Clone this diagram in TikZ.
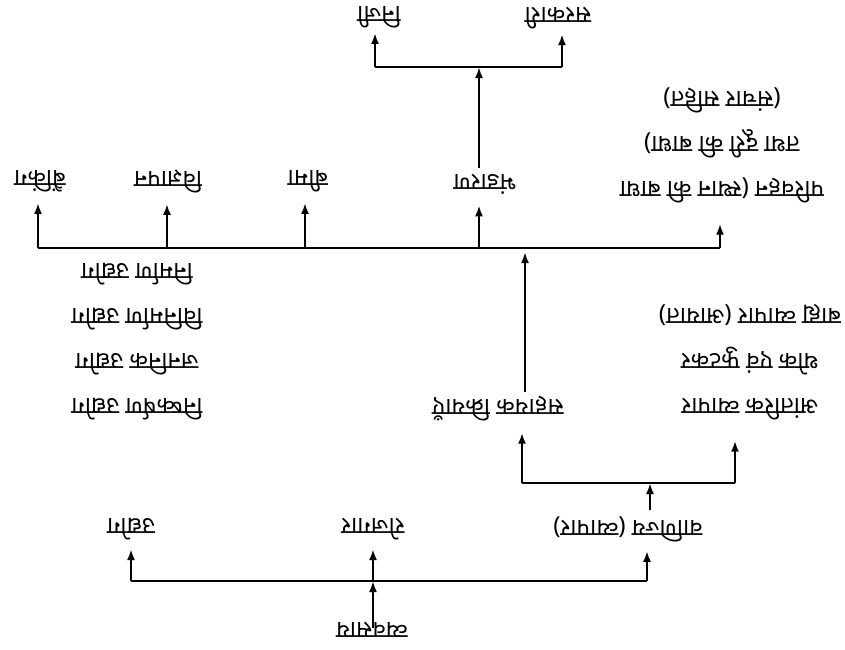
\documentclass[tikz,border=0pt]{standalone}
\usepackage{fontspec}
\newfontfamily\deva[Script=Devanagari]{Noto Sans}
\usetikzlibrary{arrows.meta}
% labels are printed upside down
\newcommand{\turn}[1]{\rotatebox[origin=c]{180}{#1}}
\newcommand{\lines}[1]{\turn{\begin{tabular}{@{}c@{}}#1\end{tabular}}}
\begin{document}
\begin{tikzpicture}[x=1pt,y=-1pt,
  lbl/.style={font=\deva\fontsize{24}{45}\selectfont, inner sep=0pt},
  link/.style={line width=2.2pt},
  arr/.style={line width=2.2pt,-{Latex[length=11pt,width=8pt]}}]
\useasboundingbox[fill=white] (0,0) rectangle (845,649);

% ---- nodes ----
\node[lbl] (root) at (372,630) {\turn{व्यवसाय}};

\node[lbl] (a1) at (131,529) {\turn{उद्योग}};
\node[lbl] (b1) at (373,529) {\turn{रोजगार}};
\node[lbl] (c1) at (628,529) {\turn{वाणिज्य (व्यापार)}};

\node[lbl] (a2) at (498,409) {\turn{सहायक क्रियाएँ}};
\node[lbl] (b2) at (750,362) {\lines{आंतरिक व्यापार\\थोक एवं फुटकर\\बाह्य व्यापार (आयात)}};

\node[lbl] (list) at (137,340) {\lines{निष्कर्षण उद्योग\\जननिक उद्योग\\विनिर्माण उद्योग\\निर्माण उद्योग}};

\node[lbl] (a3) at (40,181) {\turn{बैंकिंग}};
\node[lbl] (b3) at (168,181) {\turn{विज्ञापन}};
\node[lbl] (c3) at (308,181) {\turn{बीमा}};
\node[lbl] (d3) at (485,184) {\turn{भंडारण}};
\node[lbl] (e3) at (722,145) {\lines{परिवहन (स्थान की बाधा\\तथा दूरी की बाधा)\\(संचार सहित)}};

\node[lbl] (a4) at (379,17) {\turn{निजी}};
\node[lbl] (b4) at (558,18) {\turn{सरकारी}};

% ---- junctions ----
\coordinate (j1) at (373,581);
\coordinate (j1a) at (131,581);
\coordinate (j1c) at (647,581);
\coordinate (j2) at (650,483);
\coordinate (j2a) at (522,483);
\coordinate (j2b) at (735,483);
\coordinate (j3) at (525,248);
\coordinate (j3a) at (38,248);
\coordinate (j3b) at (167,248);
\coordinate (j3c) at (305,248);
\coordinate (j3d) at (479,248);
\coordinate (j3e) at (720,248);
\coordinate (j4) at (479,67);
\coordinate (j4a) at (375,67);
\coordinate (j4b) at (562,67);

% ---- connectors (tips stop short of the labels) ----
\draw[arr] ([yshift=-6pt]root.north -| j1) -- (j1);
\draw[link] (j1a) -- (j1c);
\foreach \j/\n in {j1a/a1, j1/b1, j1c/c1}
  \draw[arr] (\j) -- ([yshift=-9pt]\j |- \n.south);

\draw[arr] ([yshift=6pt]j2 |- c1.north) -- (j2);
\draw[link] (j2a) -- (j2b);
\draw[arr] (j2a) -- ([yshift=-11pt]j2a |- a2.south);
\draw[arr] (j2b) -- ([yshift=-11pt]j2b |- b2.south);

\draw[arr] ([yshift=4pt]j3 |- a2.north) -- ([yshift=-4pt]j3);
\draw[link] (j3a) -- (j3e);
\foreach \j/\n in {j3a/a3, j3b/b3, j3c/c3, j3d/d3, j3e/e3}
  \draw[arr] (\j) -- ([yshift=-11pt]\j |- \n.south);

\draw[arr] ([yshift=6pt]j4 |- d3.north) -- (j4);
\draw[link] (j4a) -- (j4b);
\draw[arr] (j4a) -- ([yshift=-5pt]j4a |- a4.south);
\draw[arr] (j4b) -- ([yshift=-5pt]j4b |- b4.south);
\end{tikzpicture}
\end{document}
